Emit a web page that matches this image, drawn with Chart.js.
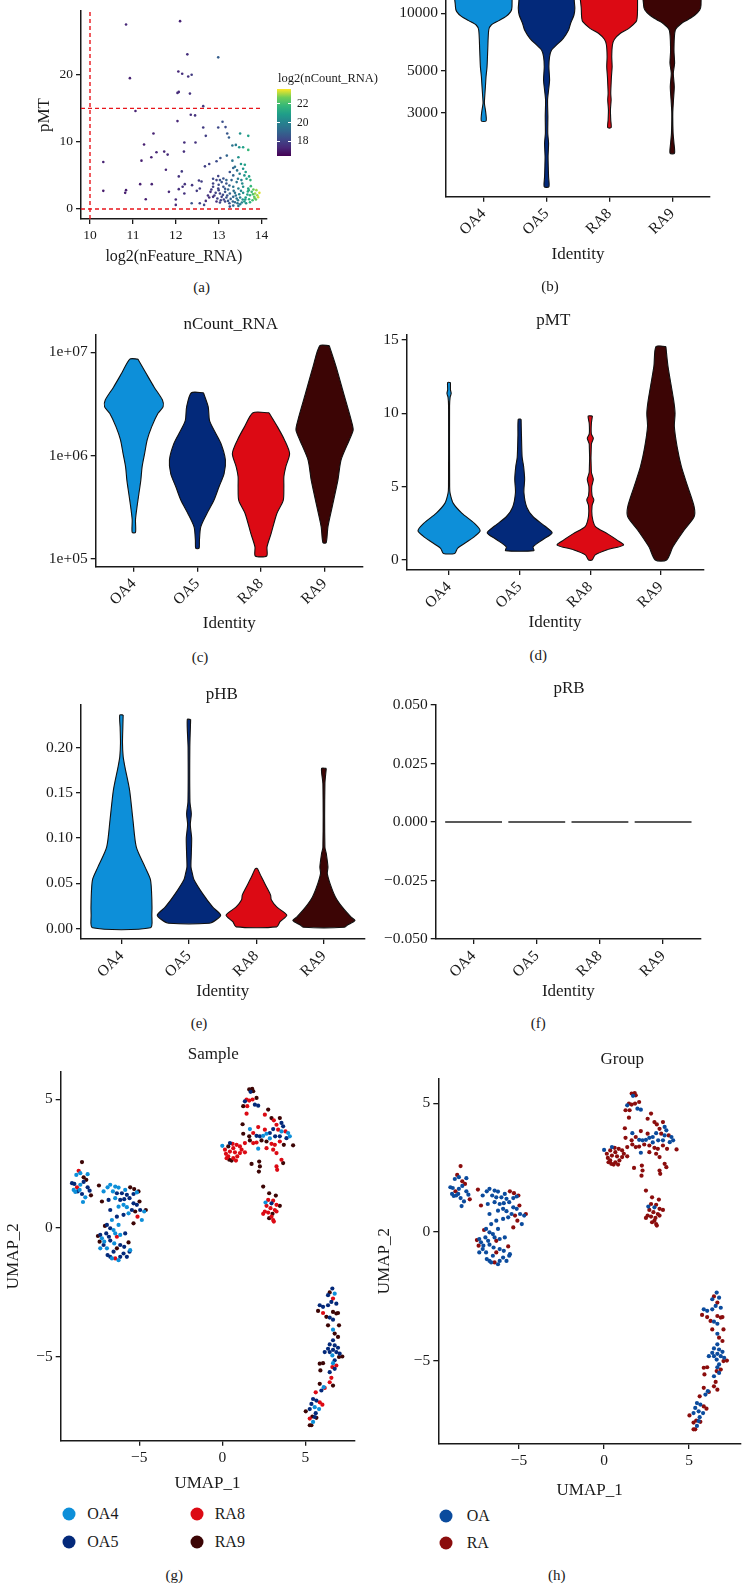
<!DOCTYPE html>
<html><head><meta charset="utf-8">
<script src="https://cdn.jsdelivr.net/npm/chart.js@4.4.1/dist/chart.umd.min.js"></script>
<style>
html,body{margin:0;padding:0;background:#fff;}
body{position:relative;width:745px;height:1583px;overflow:hidden;font-family:'Liberation Serif',serif;color:#1a1a1a;}
canvas{position:absolute;}
.t{position:absolute;transform:translate(-50%,-50%);white-space:nowrap;line-height:1;}
.l{position:absolute;transform:translate(0,-50%);white-space:nowrap;line-height:1;}
.dot{position:absolute;border-radius:50%;transform:translate(-50%,-50%);}
</style></head><body>
<script>
// ---------------- DATA ----------------
const identities = ['OA4','OA5','RA8','RA9'];
const groups = ['OA','RA'];

// (a) QC scatter: log2(nFeature_RNA), pMT, log2(nCount_RNA)
const aFeature = [10.84,12.1,12.27,12.99,10.93,12.06,12.15,12.29,12.37,12.04,12.07,12.33,12.64,11.06,12.35,12.45,12.04,12.64,12.99,13.09,13.16,11.48,13.2,12.7,13.24,11.26,12.2,12.46,13.32,13.5,13.69,13.4,13.48,13.57,13.69,10.31,11.2,11.55,11.73,11.81,12.19,11.43,11.77,12.14,12.07,12.68,12.78,12.95,13.04,13.19,13.32,13.46,13.52,13.61,11.17,11.44,10.31,10.84,10.82,11.3,11.84,12.0,12.0,12.07,12.16,12.21,12.2,12.38,12.49,12.56,12.6,12.54,12.37,12.56,12.66,12.87,
12.95,13.07,13.26,13.34,13.43,13.49,13.57,13.63,13.71,13.74,13.65,13.53,13.42,13.3,13.18,
12.87,12.99,13.11,13.22,13.34,13.46,13.57,13.69,13.81,13.88,13.85,13.77,
12.81,12.93,13.03,13.15,13.26,13.38,13.48,13.57,13.67,13.73,13.83,13.9,
12.78,12.87,12.97,13.07,13.12,13.18,13.28,13.34,13.42,13.5,13.56,13.63,13.71,13.79,13.87,
12.95,13.03,13.15,13.25,13.33,13.44,13.54,13.64,13.73,13.34,13.46,13.26,
12.87,13.03,13.11,13.18,12.99,13.38,13.34,
13.2,13.1,13.4,13.45,13.6,13.68,13.75,13.55,13.45,13.6,13.25,13.0,12.9,13.05,13.22,13.38,13.5,13.62,13.8,13.84,13.92,13.95,13.7,13.52,13.35,13.15,12.7,12.75,12.83,13.0];
const aPMT = [27.5,28.0,23.05,22.6,19.5,20.5,20.15,19.75,20.0,17.3,17.45,17.2,15.33,14.6,14.05,13.95,13.1,12.15,12.15,13.0,12.2,11.25,11.25,10.9,10.65,9.6,9.9,9.9,9.45,11.25,10.9,9.55,9.2,9.2,8.8,7.0,7.2,8.45,8.55,8.1,8.55,7.7,5.85,5.6,4.85,6.35,6.7,7.1,7.6,7.95,7.2,7.7,6.7,6.6,3.7,3.7,2.7,2.8,2.4,1.45,2.55,1.4,0.6,2.95,3.3,3.7,2.3,3.55,2.7,3.05,4.1,4.25,0.85,0.85,0.6,4.5,
4.3,4.0,5.5,5.0,5.75,5.25,6.0,5.5,4.85,4.3,4.5,4.3,4.0,4.3,3.8,
3.3,3.05,3.3,2.9,3.3,3.05,3.3,3.05,2.9,2.8,2.3,2.55,
2.55,2.4,2.3,2.55,2.3,2.4,2.2,2.4,2.15,2.05,1.8,2.05,
1.7,1.8,1.55,1.8,1.4,1.7,1.5,1.8,1.55,1.7,1.4,1.7,1.45,1.3,1.4,
1.1,0.95,1.1,0.85,1.1,0.85,0.95,0.85,1.0,0.5,0.45,0.35,
3.8,4.3,4.55,4.3,4.9,6.3,6.1,
2.0,2.1,2.0,1.3,1.1,2.6,3.4,3.8,4.5,5.0,3.5,2.8,2.0,1.3,1.2,1.0,0.7,1.4,2.2,1.6,1.75,2.4,2.8,2.7,2.7,3.0,1.2,2.0,2.9,3.6];
const aCount = [17.3,17.2,17.5,18.8,17.2,17.3,17.5,17.6,17.8,17.4,17.4,17.6,17.8,17.2,17.5,17.6,17.3,17.8,18.2,18.4,18.3,17.2,18.6,17.9,18.8,17.1,17.5,17.6,19.5,20.5,21.0,19.8,20.5,21.0,21.8,17.2,17.1,17.3,17.3,17.4,17.5,17.2,17.3,17.8,17.6,17.9,18.0,18.3,18.5,19.0,19.5,20.5,20.8,21.0,17.1,17.2,17.0,17.1,17.1,17.1,17.3,17.4,17.4,17.5,17.6,17.6,17.6,17.7,17.8,17.8,17.9,17.8,18.5,18.0,18.2,18.2,
18,18.5,18.5,19,19.5,20,20.5,21,21,21.5,21,20,19.5,19,18.5,
18,18,18.5,19,19.5,20,20.5,21,22.5,23,23,22,
17.5,18,18,18.5,19,19.5,20,20.5,21,21.5,22.5,23,
17.5,17.5,18,18,18,18.5,19,19,19.5,20,20.5,21,21.5,22,22.5,
17.5,18,18,18.5,19,19.5,20,20.5,21.5,19,19.5,18.5,
18,18.5,18.5,19,18,19.5,19,
18.5,18.2,19.5,19.8,20.8,21.2,21.8,20.3,19.8,20.6,19,18.1,17.8,18.1,18.6,19.2,19.8,20.9,22.2,22.6,23.3,23.4,21.4,20.2,19.4,18.6,17.5,17.6,17.8,18.2];
const aXTicks = [10,11,12,13,14];
const aYTicks = [0,10,20];
const aThresholdFeature = [10];
const aThresholdPMT = [0,15];
const aColorTicks = [22,20,18];

// (b) nFeature_RNA violins: [value, half-width]
const nFeatureOA4 = [[16000,0.45],[10835,0.45],[10200,0.43],[9600,0.35],[9150,0.24],[8684,0.12],[8172,0.08],[6420,0.064],[5250,0.053],[4650,0.037],[4121,0.027],[3650,0.016],[3370,0.011],[3109,0.027],[2930,0.037],[2722,0.037]];
const nFeatureOA5 = [[16000,0.44],[11745,0.44],[10617,0.45],[9797,0.436],[8862,0.383],[8172,0.35],[7393,0.266],[6820,0.16],[6420,0.08],[5923,0.048],[5250,0.037],[4467,0.048],[3958,0.032],[3508,0.016],[2869,0.021],[2346,0.019],[2080,0.032],[1769,0.024],[1567,0.027],[1389,0.032],[1230,0.037]];
const nFeatureRA8 = [[16000,0.447],[10407,0.447],[9414,0.44],[9036,0.425],[8339,0.31],[7852,0.175],[7305,0.08],[6820,0.048],[5923,0.037],[5250,0.043],[4650,0.032],[4292,0.027],[3802,0.021],[3508,0.027],[3109,0.016],[2754,0.021],[2512,0.027]];
const nFeatureRA9 = [[16000,0.457],[11054,0.457],[10407,0.436],[9797,0.36],[9226,0.24],[8862,0.15],[8172,0.048],[6420,0.027],[5467,0.037],[4844,0.016],[4121,0.032],[3508,0.019],[2988,0.008],[2346,0.013],[2080,0.027],[1843,0.035]];
const nFeatureTicks = [3000,5000,10000];

// (c) nCount_RNA violins
const nCountOA4 = [[8.6e6,0.063],[6.3e6,0.19],[4.6e6,0.32],[3.45e6,0.45],[2.97e6,0.46],[2.57e6,0.38],[1.9e6,0.28],[1.42e6,0.21],[1.05e6,0.17],[7.8e5,0.13],[5.8e5,0.11],[4.3e5,0.08],[3.2e5,0.05],[2.4e5,0.026],[1.81e5,0.026]];
const nCountOA5 = [[4.06e6,0.095],[2.97e6,0.17],[2.2e6,0.19],[1.77e6,0.26],[1.31e6,0.37],[9.1e5,0.44],[6.7e5,0.42],[5.0e5,0.34],[3.7e5,0.26],[2.76e5,0.15],[2.05e5,0.053],[1.52e5,0.032],[1.27e5,0.026]];
const nCountRA8 = [[2.6e6,0.126],[1.9e6,0.26],[1.42e6,0.37],[1.05e6,0.45],[7.8e5,0.39],[6.25e5,0.36],[5.0e5,0.36],[3.7e5,0.35],[2.76e5,0.25],[1.77e5,0.16],[1.31e5,0.095],[1.07e5,0.09]];
const nCountRA9 = [[1.16e7,0.074],[7.3e6,0.18],[4.0e6,0.3],[2.2e6,0.42],[1.77e6,0.45],[1.42e6,0.39],[9.1e5,0.26],[5.8e5,0.21],[3.2e5,0.12],[2.05e5,0.053],[1.44e5,0.026]];
const nCountTicks = [1e5,1e6,1e7];
const nCountTickLabels = ['1e+05','1e+06','1e+07'];

// (d) pMT violins
const pMTOA4 = [[12.1,0.02],[11.6,0.02],[11.35,0.03],[11.1,0.015],[10.5,0.007],[5,0.008],[4.55,0.015],[3.86,0.06],[3.2,0.18],[2.5,0.36],[2.0,0.44],[1.6,0.36],[1.36,0.29],[0.8,0.12],[0.45,0.08]];
const pMTOA5 = [[9.6,0.02],[8.5,0.025],[7.0,0.035],[6.4,0.055],[5.5,0.07],[4.6,0.06],[3.6,0.1],[2.95,0.19],[2.3,0.36],[1.85,0.46],[1.4,0.33],[0.9,0.19],[0.64,0.2]];
const pMTRA8 = [[9.82,0.03],[9.3,0.015],[8.6,0.015],[8.3,0.043],[7.9,0.015],[6.0,0.015],[5.5,0.043],[5.0,0.02],[4.4,0.025],[4.1,0.05],[3.7,0.025],[3.0,0.025],[2.3,0.07],[1.8,0.24],[1.36,0.38],[1.02,0.47],[0.7,0.24],[0.35,0.07],[0.0,0.025]];
const pMTRA9 = [[14.55,0.07],[13.2,0.1],[10.9,0.18],[10,0.2],[9.1,0.19],[7.7,0.23],[6.36,0.29],[5,0.38],[3.64,0.47],[2.95,0.47],[2.05,0.33],[0.9,0.17],[0,0.08]];
const pMTTicks = [0,5,10,15];

// (e) pHB violins
const pHBOA4 = [[0.236,0.025],[0.222,0.02],[0.205,0.015],[0.19,0.025],[0.179,0.05],[0.153,0.12],[0.12,0.17],[0.09,0.22],[0.068,0.35],[0.054,0.43],[0.032,0.45],[0.015,0.45],[0.001,0.43]];
const pHBOA5 = [[0.231,0.025],[0.2,0.013],[0.14,0.015],[0.127,0.035],[0.115,0.02],[0.1,0.04],[0.083,0.035],[0.068,0.03],[0.061,0.05],[0.054,0.075],[0.039,0.2],[0.024,0.35],[0.015,0.47],[0.0096,0.4],[0.006,0.3]];
const pHBRA8 = [[0.0665,0.015],[0.057,0.075],[0.046,0.15],[0.037,0.21],[0.032,0.22],[0.024,0.3],[0.015,0.45],[0.0077,0.35],[0.002,0.3]];
const pHBRA9 = [[0.177,0.035],[0.16,0.015],[0.09,0.015],[0.083,0.035],[0.068,0.06],[0.061,0.05],[0.05,0.09],[0.035,0.17],[0.024,0.27],[0.013,0.4],[0.009,0.46],[0.004,0.35],[0.0015,0.3]];
const pHBTicks = [0,0.05,0.1,0.15,0.2];

// (f) pRB (all zero)
const pRBValues = [0,0,0,0];
const pRBTicks = [-0.05,-0.025,0,0.025,0.05];

// (g)/(h) UMAP coordinates per sample
const umapOA4 = [[-8.78,2.06],[-8.54,2.13],[-8.1,2.09],[-8.54,1.68],[-8.84,1.4],[-8.58,1.48],[-8.24,1.19],[-8.38,1.01],[-8.94,1.48],
[-6.9,1.58],[-6.74,1.68],[-6.44,1.61],[-6.24,1.57],[-5.84,1.48],[-5.14,1.38],[-7.14,1.42],[-6.58,1.42],[-6.44,1.16],[-6.24,0.83],[-5.94,0.9],[-5.74,0.81],[-4.7,0.64],[-4.84,0.31],[-5.64,0.57],[-6.64,0.31],[-6.54,-0.08],[-6.24,0.12],[-6.44,-0.21],[-6.14,-0.27],[-7.24,-0.4],[-7.1,-0.53],[-6.5,-0.6],[-5.54,-0.86],[-6.94,-0.79],[-6.24,-1.25],[-6.64,-1.18],[-7.34,-0.79],
[3.96,3.69],[3.56,3.75],[2.66,3.66],[2.46,3.58],[1.66,3.84],[2.86,3.48],[4.06,3.56],[2.16,3.08],[0,3.19],[2.6,0.99],
[6.76,-2.55],[6.66,-3.95],[6.62,-4.95],[6.66,-5.25],[6.1,-6.18],[5.56,-6.96],[5.82,-7.03],[5.46,-7.53]];
const umapOA5 = [[-9.04,1.74],[-8.9,1.71],[-8.34,1.79],[-8.1,1.58],[-7.98,1.45],[-8.44,1.32],[-8.7,1.42],
[-6.34,1.35],[-6.04,1.35],[-5.74,1.29],[-5.34,1.32],[-6.84,1.09],[-6.14,1.09],[-5.9,1.12],[-5.58,1.16],[-5.34,0.96],[-5.14,0.9],[-6.74,0.7],[-5.44,0.7],[-4.94,0.7],[-5.94,0.51],[-6.34,0.44],[-6.94,0.12],[-6.74,-0.01],[-6.98,-0.21],[-5.84,-0.21],[-7.34,-0.27],[-6.82,-0.34],[-6.74,-0.49],[-6.14,-0.66],[-5.9,-0.73],[-5.94,-0.99],[-6.54,-0.92],[-7.14,-0.66],[-6.9,-1.05],[-6.74,-1.12],[-5.74,-1.12],[-6.14,-1.12],[-5.58,-0.92],
[1.7,5.29],[1.36,4.92],[1.96,4.79],[2.16,4.75],[3.56,4.08],[3.66,3.95],[3.06,3.84],[2.86,3.69],[2.26,3.56],[2.06,3.58],[3.18,3.56],[3.46,3.56],[3.86,3.49],[0.46,3.3],[2.96,0.96],
[6.62,-2.35],[6.36,-2.61],[6.56,-2.87],[6.86,-2.94],[6.36,-3.0],[6.06,-3.06],[5.86,-3.0],[6.46,-3.48],[6.66,-3.56],[6.66,-4.36],[6.46,-4.52],[6.76,-4.56],[6.36,-4.69],[6.66,-4.73],[6.96,-4.65],[6.86,-4.82],[6.46,-4.82],[7.06,-4.88],[6.16,-4.82],[6.76,-5.14],[6.76,-5.47],[6.46,-5.6],[5.96,-6.31],[5.46,-6.64],[5.66,-6.7],[5.36,-6.83],[5.26,-7.03],[5.62,-7.19],[5.56,-7.34]];
const umapRA8 = [[-8.64,2.22],[-8.74,1.58],
[-5.1,0.44],[-6.34,-0.34],[-6.44,-1.18],
[1.46,4.99],[1.62,4.95],[1.82,4.99],[1.5,4.73],[1.46,4.44],[2.56,4.4],[3.1,4.18],[3.26,4.01],[3.8,3.75],[3.36,3.82],[1.86,3.69],[2.16,3.92],[2.56,3.82],[3.46,3.36],[3.16,3.23],[2.96,3.27],[2.06,3.32],[1.86,3.3],[1.36,3.3],[3.06,3.04],[3.26,2.91],[3.56,2.65],[3.26,2.39],[2.66,3.1],
[0.62,3.27],[0.86,3.23],[1.06,3.17],[0.66,3.1],[0.46,2.97],[0.76,2.94],[1.06,2.91],[1.36,2.94],[0.22,2.88],[0.36,2.78],[0.66,2.71],[0.9,2.78],[1.16,3.04],[0.16,3.04],[0.82,2.62],[0.26,2.71],[3.3,2.26],
[2.76,1.09],[3.06,1.06],[3.26,0.9],[2.66,0.86],[2.9,0.77],[3.16,0.7],[2.56,0.64],[2.76,0.6],[3.26,0.64],[2.46,0.55],[3.06,0.31],[2.96,0.44],[3.1,0.25],
[6.66,-2.74],[6.06,-3.3],[6.62,-5.4],[6.86,-5.34],[6.56,-5.82],[6.46,-5.99],[5.62,-6.38],[6.16,-6.21],[5.86,-6.77],[6.02,-6.86],[5.26,-7.4]];
const umapRA9 = [[-8.44,2.56],[-8.34,1.97],[-8.18,1.87],[-7.9,1.27],
[-7.42,1.65],[-5.54,1.58],[-5.3,1.51],[-5.04,1.42],[-7.24,1.03],[-4.98,1.03],[-5.24,0.64],[-4.6,0.7],[-5.34,0.18],[-7.06,0.08],[-7.48,-0.31],[-7.38,-0.53],[-5.64,-0.56],[-6.34,-0.79],
[1.62,5.38],[1.8,5.4],[1.86,5.31],[2.06,5.05],[1.26,4.73],[2.76,4.6],[2.96,4.27],[3.46,4.27],[1.62,3.56],[1.26,3.66],[1.22,4.03],[4.26,3.21],[3.7,3.23],[2.66,3.36],[2.36,3.4],[1.66,3.4],[3.66,2.52],
[0.36,3.17],[0.56,2.62],[0.42,2.65],[1.76,2.49],[2.22,2.58],[2.26,2.39],[2.2,2.19],
[2.46,1.61],[2.82,1.35],[3.22,1.26],[3.46,0.86],[3.02,0.55],[2.82,0.38],
[6.46,-2.5],[5.76,-3.22],[6.66,-3.26],[6.86,-3.32],[6.96,-3.3],[6.26,-3.45],[6.36,-3.78],[7.02,-3.78],[6.76,-4.1],[6.96,-4.23],[7.22,-4.99],[7.02,-5.01],[6.06,-5.25],[5.86,-5.27],[5.9,-5.53],[5.86,-6.05],[6.66,-6.12],[5.02,-7.12],[5.42,-7.32],[5.66,-7.37],[5.36,-7.66],[5.26,-7.66]];
const umapTicks = [-5,0,5];

// ---------------- STYLE ----------------
const sampleColors = ['#0d8fd9','#03297a','#dc0a14','#3c0505'];
const groupColors = ['#0b4b9d','#8b0d0d'];
const VIRIDIS = ['#440154','#482878','#3e4989','#31688e','#26828e','#1f9e89','#35b779','#6ece58','#fde725'];
const cRange = [16.4, 23.6];
const INK = '#1a1a1a';
const TICK = 15.5, TITLE = 17;

Chart.defaults.font.family = "'Liberation Serif', serif";
Chart.defaults.color = INK;
Chart.defaults.animation = false;

function hex(c){return [parseInt(c.slice(1,3),16),parseInt(c.slice(3,5),16),parseInt(c.slice(5,7),16)];}
function viridis(v){
  let t = (v - cRange[0]) / (cRange[1] - cRange[0]);
  t = Math.max(0, Math.min(1, t)) * (VIRIDIS.length - 1);
  const i = Math.min(Math.floor(t), VIRIDIS.length - 2), f = t - i;
  const a = hex(VIRIDIS[i]), b = hex(VIRIDIS[i+1]);
  return 'rgb(' + a.map((x,k)=>Math.round(x + (b[k]-x)*f)).join(',') + ')';
}
function minusFmt(s){return String(s).replace('-', '\u2212');}

function addText(txt, x, y, size, cls){
  const d = document.createElement('div');
  d.className = cls || 't';
  d.textContent = txt;
  d.style.left = x + 'px'; d.style.top = y + 'px'; d.style.fontSize = size + 'px';
  document.body.appendChild(d);
  return d;
}
function addDot(x, y, r, color){
  const d = document.createElement('div');
  d.className = 'dot';
  d.style.left = x + 'px'; d.style.top = y + 'px';
  d.style.width = (2*r) + 'px'; d.style.height = (2*r) + 'px';
  d.style.background = color;
  document.body.appendChild(d);
}

function axis(type, min, max, tickVals, fmt, size, rot){
  return {
    type, min, max,
    border: {display: true, color: INK, width: 1.5},
    grid: {display: true, drawOnChartArea: false, drawTicks: true, tickLength: 5, color: INK, tickColor: INK, lineWidth: 1.3},
    ticks: {font: {size}, color: INK, padding: 3, autoSkip: false, minRotation: rot||0, maxRotation: rot||0,
            callback: (v) => fmt(v)},
    afterBuildTicks: (s) => { s.ticks = tickVals.map(v => ({value: v})); }
  };
}

function makeChart(box, area, type, datasets, xAxis, yAxis, xTitle, yTitle){
  const [cx, cy, cw, ch] = box; const [l, t, r, b] = area;
  const cv = document.createElement('canvas');
  cv.width = cw; cv.height = ch;
  cv.style.left = cx + 'px'; cv.style.top = cy + 'px';
  cv.style.width = cw + 'px'; cv.style.height = ch + 'px';
  document.body.appendChild(cv);
  xAxis.afterFit = (s) => { s.height = cy + ch - b; };
  yAxis.afterFit = (s) => { s.width = l - cx; };
  if (xTitle) {
    const lh = xTitle.size * 1.2;
    xAxis.title = {display: true, text: xTitle.text, color: INK, font: {size: xTitle.size},
      padding: {top: 0, bottom: (cy + ch) - xTitle.y - lh/2}};
  }
  if (yTitle) {
    const lh = yTitle.size * 1.2;
    yAxis.title = {display: true, text: yTitle.text, color: INK, font: {size: yTitle.size},
      padding: {top: yTitle.x - cx - lh/2, bottom: 0}};
  }
  return new Chart(cv, {
    type, data: {datasets},
    options: {
      responsive: false, devicePixelRatio: 1, animation: false,
      layout: {padding: {left: 0, top: t - cy, right: cx + cw - r, bottom: 0}},
      scales: {x: xAxis, y: yAxis},
      plugins: {legend: {display: false}, tooltip: {enabled: false}, title: {display: false}}
    }
  });
}

function violin(profile, idx, color){
  const c = idx + 1;
  const right = profile.map(([v, w]) => ({x: c + w, y: v}));
  const left = profile.slice().reverse().map(([v, w]) => ({x: c - w, y: v}));
  const pts = right.concat(left); pts.push({x: right[0].x, y: right[0].y});
  return {type: 'line', data: pts, borderColor: '#111', borderWidth: 1.1, backgroundColor: color,
          fill: 'shape', pointRadius: 0, tension: 0.25, borderJoinStyle: 'round'};
}
function violinX(){ return axis('linear', 0.4, 4.6, [1,2,3,4], v => identities[v-1], TICK, 45); }

// ---------------- (a) ----------------
{
  const pts = aFeature.map((x, i) => ({x, y: aPMT[i]}));
  const ds = [
    {type: 'scatter', data: pts, pointRadius: 1.3, pointBorderWidth: 0, pointBackgroundColor: aCount.map(viridis)},
    {type: 'scatter', showLine: true, data: [{x: aThresholdFeature[0], y: -1.5}, {x: aThresholdFeature[0], y: 29.5}], borderColor: '#e8151b', borderWidth: 1.4, borderDash: [4,3], pointRadius: 0},
    ...aThresholdPMT.map(v => ({type: 'scatter', showLine: true, data: [{x: 9.79, y: v}, {x: 14.0, y: v}], borderColor: '#e8151b', borderWidth: 1.4, borderDash: [4,3], pointRadius: 0}))
  ];
  makeChart([0,0,385,270], [81,9,266.7,219], 'scatter', ds,
    axis('linear', 9.79, 14.12, aXTicks, v => String(v), 13.5),
    axis('linear', -1.5, 29.5, aYTicks, v => String(v), 13.5),
    {text: 'log2(nFeature_RNA)', size: 16, y: 256.7},
    {text: 'pMT', size: 17, x: 45});
  const bar = document.createElement('div');
  bar.style.cssText = 'position:absolute;left:277px;top:89px;width:14px;height:67px;background:linear-gradient(to top,' + VIRIDIS.join(',') + ');';
  document.body.appendChild(bar);
  addText('log2(nCount_RNA)', 278, 78, 12.5, 'l');
  aColorTicks.forEach(v => {
    const y = 156 - (v - cRange[0]) / (cRange[1] - cRange[0]) * 67;
    addText(String(v), 297, y, 11.5, 'l');
    const tk = document.createElement('div');
    tk.style.cssText = 'position:absolute;left:277px;width:3px;height:1px;background:#fff;top:' + (y-0.5) + 'px';
    document.body.appendChild(tk);
    const tk2 = tk.cloneNode(); tk2.style.left = '288px'; document.body.appendChild(tk2);
  });
  addText('(a)', 201.7, 287, 15);
}

// ---------------- (b) ----------------
{
  const ds = [nFeatureOA4, nFeatureOA5, nFeatureRA8, nFeatureRA9].map((p, i) => violin(p, i, sampleColors[i]));
  makeChart([380,-40,365,310], [446,-27,710,196.7], 'line', ds, violinX(),
    axis('logarithmic', 1091, 16270, nFeatureTicks, v => String(v), TICK),
    {text: 'Identity', size: TITLE, y: 255}, null);
  addText('(b)', 550, 286, 15);
}

// ---------------- (c) ----------------
{
  const ds = [nCountOA4, nCountOA5, nCountRA8, nCountRA9].map((p, i) => violin(p, i, sampleColors[i]));
  makeChart([0,300,375,335], [95.7,335,362.7,566.7], 'line', ds, violinX(),
    axis('logarithmic', 84240, 1.471e7, nCountTicks, v => nCountTickLabels[nCountTicks.indexOf(v)], TICK),
    {text: 'Identity', size: TITLE, y: 623.3}, null);
  addText('nCount_RNA', 230.7, 323.3, TITLE);
  addText('(c)', 200, 657.3, 15);
}

// ---------------- (d) ----------------
{
  const ds = [pMTOA4, pMTOA5, pMTRA8, pMTRA9].map((p, i) => violin(p, i, sampleColors[i]));
  makeChart([375,300,370,335], [406.7,335,703.3,570], 'line', ds, violinX(),
    axis('linear', -0.68, 15.34, pMTTicks, v => String(v), TICK),
    {text: 'Identity', size: TITLE, y: 622.7}, null);
  addText('pMT', 553.3, 319, TITLE);
  addText('(d)', 538.3, 655, 15);
}

// ---------------- (e) ----------------
{
  const ds = [pHBOA4, pHBOA5, pHBRA8, pHBRA9].map((p, i) => violin(p, i, sampleColors[i]));
  makeChart([0,670,375,335], [81,705,364.4,939], 'line', ds, violinX(),
    axis('linear', -0.0114, 0.247, pHBTicks, v => v.toFixed(2), TICK),
    {text: 'Identity', size: TITLE, y: 991.7}, null);
  addText('pHB', 221.7, 693.3, TITLE);
  addText('(e)', 199, 1023.3, 15);
}

// ---------------- (f) ----------------
{
  const ds = pRBValues.map((v, i) => ({type: 'line', data: [{x: i + 1 - 0.45, y: v}, {x: i + 1 + 0.45, y: v}],
    borderColor: '#222', borderWidth: 1.5, pointRadius: 0, fill: false}));
  makeChart([375,665,370,340], [435.7,705,701,939], 'line', ds, violinX(),
    axis('linear', -0.05, 0.05, pRBTicks, v => minusFmt(v.toFixed(3)), TICK),
    {text: 'Identity', size: TITLE, y: 991.7}, null);
  addText('pRB', 569, 686.7, TITLE);
  addText('(f)', 538.3, 1023.3, 15);
}

// ---------------- (g) ----------------
{
  const sets = [umapOA4, umapOA5, umapRA8, umapRA9];
  const ds = sets.map((s, i) => ({data: s.map(([x, y]) => ({x, y})), pointRadius: 2.1, pointBorderWidth: 0, pointBackgroundColor: sampleColors[i]}));
  makeChart([0,1035,370,460], [60.7,1071.7,354.3,1440.7], 'scatter', ds,
    axis('linear', -9.72, 7.94, umapTicks, v => minusFmt(v), TICK),
    axis('linear', -8.26, 6.07, umapTicks, v => minusFmt(v), TICK),
    {text: 'UMAP_1', size: TITLE, y: 1484}, {text: 'UMAP_2', size: TITLE, x: 13.3});
  addText('Sample', 213.3, 1053.3, TITLE);
  const lx = [69.3, 196.7], ly = [1514, 1542.3];
  const pos = [[0,0],[0,1],[1,0],[1,1]];
  identities.forEach((name, i) => {
    const [c, r] = pos[i];
    addDot(lx[c], ly[r], 6.5, sampleColors[i]);
    addText(name, lx[c] + 18, ly[r], 16, 'l');
  });
  addText('(g)', 174.3, 1575, 15);
}

// ---------------- (h) ----------------
{
  const oa = umapOA4.concat(umapOA5), ra = umapRA8.concat(umapRA9);
  const ds = [oa, ra].map((s, i) => ({data: s.map(([x, y]) => ({x, y})), pointRadius: 2.1, pointBorderWidth: 0, pointBackgroundColor: groupColors[i]}));
  makeChart([375,1035,370,470], [438.3,1078.3,744,1444], 'scatter', ds,
    axis('linear', -9.75, 8.05, umapTicks, v => minusFmt(v), TICK),
    axis('linear', -8.23, 5.97, umapTicks, v => minusFmt(v), TICK),
    {text: 'UMAP_1', size: TITLE, y: 1490.7}, {text: 'UMAP_2', size: TITLE, x: 385});
  addText('Group', 622.3, 1058.3, TITLE);
  groups.forEach((g, i) => {
    const y = [1515.7, 1543.3][i];
    addDot(445.7, y, 6.5, groupColors[i]);
    addText(g, 466.7, y, 16, 'l');
  });
  addText('(h)', 556.7, 1575, 15);
}
</script>
</body></html>
